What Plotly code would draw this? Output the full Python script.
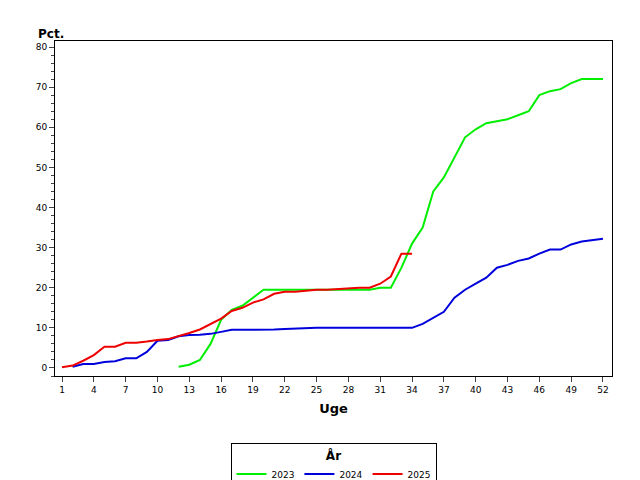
import plotly.graph_objects as go

weeks_2023 = list(range(12, 53))
vals_2023 = [0.3, 0.8, 2, 6, 12, 14.5, 15.5, 17.5, 19.5, 19.5, 19.5, 19.5, 19.5, 19.5, 19.5, 19.5, 19.5, 19.5, 19.5, 20, 20,
             25, 31, 35, 44, 47.5, 52.5, 57.5, 59.5, 61, 61.5, 62, 63, 64, 68, 69, 69.5, 71, 72, 72, 72]
weeks_2024 = list(range(2, 53))
vals_2024 = [0.3, 1, 1, 1.5, 1.7, 2.4, 2.4, 4, 6.8, 7, 7.9, 8.2, 8.3, 8.5, 9, 9.5, 9.5, 9.5, 9.5, 9.6, 9.7, 9.8,
             10, 10, 10, 10, 10, 10, 10, 10, 10, 10, 10, 11, 12.5, 14, 17.5, 19.5, 21, 22.5, 25, 25.7, 26.7, 27.3,
             28.5, 29.5, 29.5, 30.8, 31.5, 31.8, 32.2]
weeks_2025 = list(range(1, 35))
vals_2025 = [0.2, 0.6, 1.8, 3.2, 5.3, 5.3, 6.3, 6.3, 6.6, 7, 7.2, 7.9, 8.7, 9.6, 10.9, 12.3, 14.2, 15, 16.3, 17.1,
             18.5, 19, 19, 19.3, 19.5, 19.5, 19.7, 19.8, 20, 20, 21, 22.8, 28.5, 28.5]

fig = go.Figure()
for name, x, y, c in [("2023", weeks_2023, vals_2023, "#00ee00"),
                      ("2024", weeks_2024, vals_2024, "#0000dd"),
                      ("2025", weeks_2025, vals_2025, "#ee0000")]:
    fig.add_trace(go.Scatter(x=x, y=y, name=name, mode="lines", line=dict(color=c, width=2)))

fig.update_layout(
    width=640, height=480, paper_bgcolor="white", plot_bgcolor="white",
    margin=dict(l=47, r=36, t=33, b=112, autoexpand=False),
    font=dict(family="DejaVu Sans", size=10, color="black"),
    xaxis=dict(range=[0.34, 52.85], tickmode="array", tickvals=list(range(1, 53, 3)), ticks="outside",
               showline=True, linecolor="black", mirror=True, showgrid=False, zeroline=False,
               title=dict(text="<b>Uge</b>", font=dict(size=13), standoff=10), tickfont=dict(size=9)),
    yaxis=dict(range=[-2, 81.5], tickvals=list(range(0, 81, 10)), ticks="outside",
               showline=True, linecolor="black", mirror=True, showgrid=False, zeroline=False,
               minor=dict(dtick=2, ticks="outside", ticklen=3), tickfont=dict(size=9)),
    legend=dict(orientation="h", x=0.5, xanchor="center", y=-0.2, yanchor="top",
                bordercolor="black", borderwidth=1, itemwidth=30,
                title=dict(text="<b>År</b>", side="top center", font=dict(size=12)),
                font=dict(size=9)),
    annotations=[dict(text="<b>Pct.</b>", xref="paper", yref="paper", x=-0.035, y=0.995, xanchor="left", yanchor="bottom",
                      showarrow=False, font=dict(size=12))],
)
fig.write_html("out.html")
